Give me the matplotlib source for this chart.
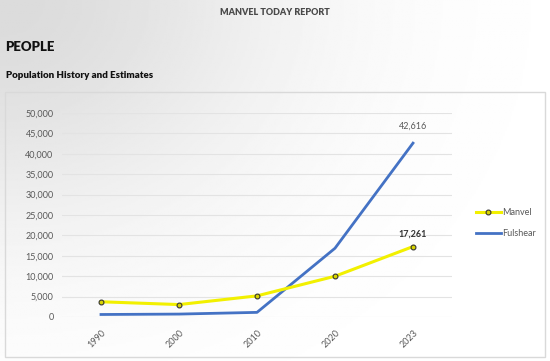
import numpy as np
import matplotlib
matplotlib.use("Agg")
import matplotlib.pyplot as plt
from matplotlib.patches import Rectangle

years = ["1990", "2000", "2010", "2020", "2023"]
manvel = [3733, 3046, 5179, 9992, 17261]
fulshear = [614, 716, 1134, 16856, 42616]
yticks = [0, 5000, 10000, 15000, 20000, 25000, 30000, 35000, 40000, 45000, 50000]

plt.rcParams['font.family'] = ['Lato', 'DejaVu Sans']

fig = plt.figure(figsize=(5.5, 3.61), dpi=100)

# sfondo sfumato: grigio in alto a sinistra -> bianco
bg = fig.add_axes([0, 0, 1, 1], zorder=-10)
xx, yy = np.meshgrid(np.linspace(0, 1, 300), np.linspace(0, 1, 200))
g = np.clip(1 - 0.14 * np.exp(-((xx * 1.6) ** 2 + ((1 - yy) * 1.3) ** 2) * 1.5), 0, 1)
bg.imshow(g, cmap="gray", vmin=0, vmax=1, extent=[0, 1, 0, 1], aspect="auto", origin="lower")
bg.set_xlim(0, 1)
bg.set_ylim(0, 1)
bg.axis("off")

fig.text(0.5, 0.965, "MANVEL TODAY REPORT", ha="center", va="center",
         fontsize=6.5, fontweight="heavy", color="#4a4a4a")
fig.text(0.01, 0.87, "PEOPLE", ha="left", va="center", fontsize=9.5, fontweight="heavy", color="#111111")
fig.text(0.01, 0.792, "Population History and Estimates", ha="left", va="center",
         fontsize=7, fontweight="heavy", color="#111111")

fig.patches.append(Rectangle((5 / 550, 1 - 357 / 361), 540 / 550, 265 / 361,
                             transform=fig.transFigure, facecolor="none",
                             edgecolor="#d9d9d9", linewidth=1, zorder=-5))

ax = fig.add_axes([62 / 550, 1 - 317 / 361, 390 / 550, 204 / 361])
ax.patch.set_alpha(0)
x = np.arange(len(years))
ax.plot(x, manvel, color="#f2f000", linewidth=2.2, marker="o", markersize=3.5,
        markerfacecolor="#d8d400", markeredgecolor="#333333", markeredgewidth=0.8, label="Manvel", zorder=3)
ax.plot(x, fulshear, color="#4472c4", linewidth=2, label="Fulshear", zorder=2)

ax.set_xlim(-0.5, len(years) - 0.5)
ax.set_ylim(0, 50000)
ax.set_yticks(yticks)
ax.set_yticklabels([f"{v:,}" for v in yticks])
ax.set_xticks(x)
ax.set_xticklabels(years, rotation=45, ha="right", rotation_mode="anchor")
ax.grid(axis="y", color="#e3e3e3", linewidth=0.8)
ax.set_axisbelow(True)
for s in ax.spines.values():
    s.set_visible(False)
ax.tick_params(length=0, labelsize=6.5, colors="#595959", pad=6)
ax.tick_params(axis="x", pad=8)

ax.annotate(f"{fulshear[-1]:,}", (x[-1], fulshear[-1]), xytext=(0, 9), textcoords="offset points",
            ha="center", va="bottom", fontsize=6.5, color="#595959")
ax.annotate(f"{manvel[-1]:,}", (x[-1], manvel[-1]), xytext=(0, 6), textcoords="offset points",
            ha="center", va="bottom", fontsize=6.5, fontweight="bold", color="#333333")

ax.legend(loc="center left", bbox_to_anchor=(1.04, 0.46), frameon=False, fontsize=6.5,
          handlelength=2.8, handletextpad=0.1, labelcolor="#595959", labelspacing=1.3)

fig.savefig("out.png", dpi=100)
